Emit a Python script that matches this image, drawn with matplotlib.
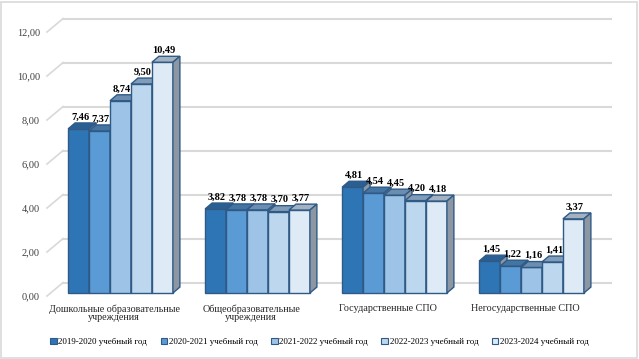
import matplotlib.pyplot as plt
import numpy as np
from matplotlib.patches import Polygon, Rectangle, Patch

plt.rcParams['font.family'] = ['Liberation Serif', 'DejaVu Serif']

categories = ["Дошкольные образовательные\nучреждения",
              "Общеобразовательные\nучреждения",
              "Государственные СПО",
              "Негосударственные СПО"]
years = ["2019-2020 учебный год", "2020-2021 учебный год", "2021-2022 учебный год",
         "2022-2023 учебный год", "2023-2024 учебный год"]
values = [
    [7.46, 3.82, 4.81, 1.45],
    [7.37, 3.78, 4.54, 1.22],
    [8.74, 3.78, 4.45, 1.16],
    [9.50, 3.70, 4.20, 1.41],
    [10.49, 3.77, 4.18, 3.37],
]
yticks = [0, 2, 4, 6, 8, 10, 12]

front_colors = ["#2e75b6", "#5b9bd5", "#9dc3e6", "#bdd7ee", "#deebf7"]
top_colors = ["#2a5f94", "#4474a2", "#6b8db0", "#819cb8", "#a3b1c1"]
side_color = "#8c97a3"
edge = "#2f5a86"

# depth of the back wall and of the bars (data units)
DXW, DYW = 0.117, 0.61
SX, SY = 0.026, 0.136      # bar front plane shift
BX, BY = 0.051, 0.27       # bar depth
OFF, W = 0.128, 0.153

fig = plt.figure(figsize=(6.39, 3.59), dpi=100)
ax = fig.add_axes([47/639, 63/359, 548/639, 264/359])
ax.set_xlim(0, 4)
ax.set_ylim(0, 12)
for s in ax.spines.values():
    s.set_visible(False)

# gridlines: side wall diagonal + back wall
for v in yticks:
    ax.plot([0, DXW], [v, v + DYW], color="#d9d9d9", lw=1.2, clip_on=False, zorder=1)
    ax.plot([DXW, 4 + DXW], [v + DYW, v + DYW], color="#d9d9d9", lw=1.5, clip_on=False, zorder=1)

n = len(values)
for i in range(len(categories)):
    for j in range(n):
        v = values[j][i]
        x0 = i + OFF + j * W + SX
        y0 = SY
        x1 = x0 + W
        y1 = v + SY
        ax.add_patch(Rectangle((x0, y0), W, v, facecolor=front_colors[j], edgecolor=edge,
                               lw=1.0, clip_on=False, zorder=2 + i * 10 + j))
        ax.add_patch(Polygon([(x0, y1), (x0 + BX, y1 + BY), (x1 + BX, y1 + BY), (x1, y1)],
                             closed=True, facecolor=top_colors[j], edgecolor=edge,
                             lw=1.0, clip_on=False, zorder=2 + i * 10 + j))
        ax.add_patch(Polygon([(x1, y0), (x1 + BX, y0 + BY), (x1 + BX, y1 + BY), (x1, y1)],
                             closed=True, facecolor=side_color, edgecolor=edge,
                             lw=1.0, clip_on=False, zorder=2 + i * 10 + j))
        ax.annotate(f"{v:.2f}".replace(".", ","), (x0 + W / 2 + 0.01, y1 + BY),
                    xytext=(0, 1), textcoords="offset points", ha="center", va="bottom",
                    fontsize=7.5, fontweight="bold", zorder=100, annotation_clip=False)

ax.set_yticks(yticks)
ax.set_yticklabels([f"{t:.2f}".replace(".", ",") for t in yticks], fontsize=7.5, color="#404040")
ax.set_xticks(np.arange(len(categories)) + 0.49)
ax.set_xticklabels(categories, fontsize=7.3, color="#262626", linespacing=0.95)
ax.tick_params(axis="y", length=0, pad=5)
ax.tick_params(axis="x", length=0, pad=6)

handles = [Patch(facecolor=c, edgecolor=edge, lw=0.8) for c in front_colors]
fig.legend(handles, years, loc="center", bbox_to_anchor=(0.5, 17/359), ncol=5,
           frameon=False, fontsize=6.5, handlelength=0.7, handleheight=0.7,
           handletextpad=0.2, columnspacing=1.5)

fig.add_artist(Rectangle((1/639, 1/359), 636/639, 356/359, transform=fig.transFigure,
                         fill=False, edgecolor="#d9d9d9", lw=1.2))

fig.savefig("out.png", dpi=100)
